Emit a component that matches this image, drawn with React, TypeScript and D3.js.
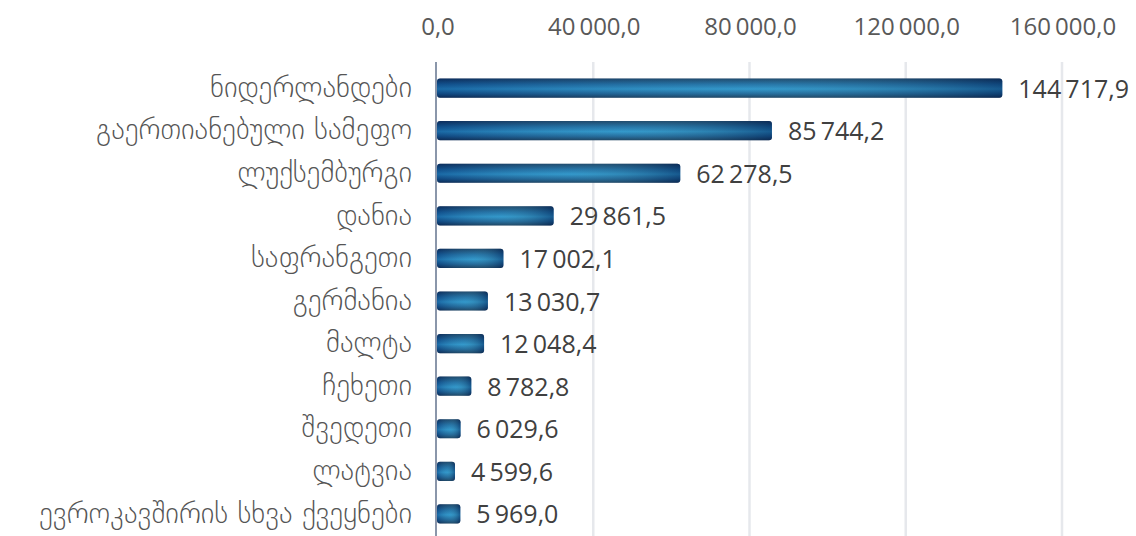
import React, { useRef, useEffect } from "react";
import * as d3 from "d3";

const categories = [
  "ნიდერლანდები",
  "გაერთიანებული სამეფო",
  "ლუქსემბურგი",
  "დანია",
  "საფრანგეთი",
  "გერმანია",
  "მალტა",
  "ჩეხეთი",
  "შვედეთი",
  "ლატვია",
  "ევროკავშირის სხვა ქვეყნები",
];
const values = [144717.9, 85744.2, 62278.5, 29861.5, 17002.1, 13030.7, 12048.4, 8782.8, 6029.6, 4599.6, 5969.0];
const ticks = [0, 40000, 80000, 120000, 160000];

const width = 1136;
const height = 536;
const margin = { top: 67, right: 74, bottom: 1, left: 437 };

const App = () => {
  const svgRef = useRef(null);

  useEffect(() => {
    const svg = d3.select(svgRef.current);
    svg.selectAll("*").remove();

    // space as thousands separator, comma as decimal mark
    const locale = d3.formatLocale({ decimal: ",", thousands: "\u2009", grouping: [3], currency: ["", ""] });
    const fmt = locale.format(",.1f");

    const x = d3.scaleLinear().domain([0, 160000]).range([margin.left, width - margin.right]);
    const y = d3
      .scaleBand()
      .domain(categories)
      .range([margin.top, height - margin.bottom])
      .paddingInner(0.55)
      .paddingOuter(0.27);

    const defs = svg.append("defs");
    const grad = defs.append("linearGradient").attr("id", "barGrad").attr("x1", 0).attr("y1", 0).attr("x2", 0).attr("y2", 1);
    grad.append("stop").attr("offset", "0%").attr("stop-color", "#0c2a55");
    grad.append("stop").attr("offset", "30%").attr("stop-color", "#145f9e");
    grad.append("stop").attr("offset", "55%").attr("stop-color", "#2389c8");
    grad.append("stop").attr("offset", "80%").attr("stop-color", "#13548f");
    grad.append("stop").attr("offset", "100%").attr("stop-color", "#0b264c");
    const hgrad = defs.append("linearGradient").attr("id", "barShade").attr("x1", 0).attr("y1", 0).attr("x2", 1).attr("y2", 0);
    hgrad.append("stop").attr("offset", "0%").attr("stop-color", "#0a2f66").attr("stop-opacity", 0.35);
    hgrad.append("stop").attr("offset", "55%").attr("stop-color", "#7fe0d8").attr("stop-opacity", 0.18);
    hgrad.append("stop").attr("offset", "100%").attr("stop-color", "#0a2a55").attr("stop-opacity", 0.5);

    // gridlines
    svg
      .append("g")
      .selectAll("line")
      .data(ticks.slice(1))
      .join("line")
      .attr("x1", (d) => x(d))
      .attr("x2", (d) => x(d))
      .attr("y1", 62)
      .attr("y2", height)
      .attr("stroke", "#e6e8ec")
      .attr("stroke-width", 2.5);

    // tick labels
    svg
      .append("g")
      .selectAll("text")
      .data(ticks)
      .join("text")
      .attr("x", (d) => x(d) + 1)
      .attr("y", 35)
      .attr("text-anchor", "middle")
      .attr("font-family", "Open Sans, sans-serif")
      .attr("font-size", 24)
      .attr("fill", "#595959")
      .text((d) => fmt(d));

    // bars
    const bars = svg.append("g");
    bars
      .selectAll("rect.b")
      .data(values)
      .join("rect")
      .attr("class", "b")
      .attr("x", x(0))
      .attr("y", (d, i) => y(categories[i]))
      .attr("width", (d) => x(d) - x(0))
      .attr("height", y.bandwidth())
      .attr("rx", 3)
      .attr("fill", "url(#barGrad)");
    bars
      .selectAll("rect.s")
      .data(values)
      .join("rect")
      .attr("class", "s")
      .attr("x", x(0))
      .attr("y", (d, i) => y(categories[i]))
      .attr("width", (d) => x(d) - x(0))
      .attr("height", y.bandwidth())
      .attr("rx", 3)
      .attr("fill", "url(#barShade)");

    // axis line
    svg
      .append("line")
      .attr("x1", x(0) - 1)
      .attr("x2", x(0) - 1)
      .attr("y1", 62)
      .attr("y2", height)
      .attr("stroke", "#8a96aa")
      .attr("stroke-width", 2);

    // value labels
    svg
      .append("g")
      .selectAll("text")
      .data(values)
      .join("text")
      .attr("x", (d) => x(d) + 16)
      .attr("y", (d, i) => y(categories[i]) + y.bandwidth() / 2)
      .attr("dy", "0.38em")
      .attr("font-family", "Open Sans, sans-serif")
      .attr("font-size", 25)
      .attr("fill", "#404040")
      .text((d) => fmt(d));

    // category labels
    svg
      .append("g")
      .selectAll("text")
      .data(categories)
      .join("text")
      .attr("x", 412)
      .attr("y", (d) => y(d) + y.bandwidth() / 2)
      .attr("dy", "0.3em")
      .attr("text-anchor", "end")
      .attr("font-family", "DejaVu Sans, sans-serif")
      .attr("font-size", 29)
      .attr("font-weight", 300)
      .attr("fill", "#555555")
      .text((d) => d);
  }, []);

  return (
    <svg
      ref={svgRef}
      width={width}
      height={height}
      style={{ position: "absolute", left: 0, top: 0, background: "#fff" }}
    ></svg>
  );
};

export default App;
